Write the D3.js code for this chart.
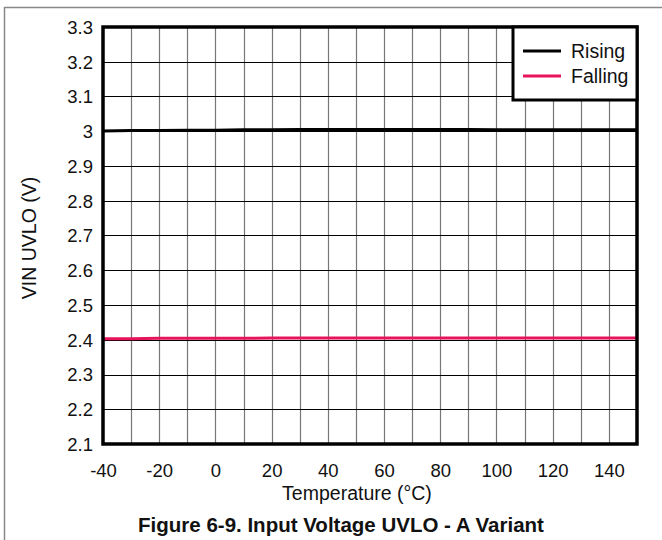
<!DOCTYPE html>
<html><head><meta charset="utf-8">
<script src="https://cdn.jsdelivr.net/npm/d3@7"></script>
<style>body{margin:0;background:#fff}svg{display:block}text{font-family:"Liberation Sans",Arial,sans-serif;fill:#111}</style>
</head><body><svg id="c" width="662" height="540"></svg>
<script>
const xTicks = [-40,-20,0,20,40,60,80,100,120,140];
const xTickLabels = ["-40","-20","0","20","40","60","80","100","120","140"];
const yTicks = [2.1,2.2,2.3,2.4,2.5,2.6,2.7,2.8,2.9,3.0,3.1,3.2,3.3];
const yTickLabels = ["2.1","2.2","2.3","2.4","2.5","2.6","2.7","2.8","2.9","3","3.1","3.2","3.3"];
const temps = [-40,-30,-20,-10,0,10,20,30,40,50,60,70,80,90,100,110,120,130,140,150];
const rising = [3.001,3.002,3.002,3.003,3.003,3.004,3.004,3.005,3.005,3.005,3.005,3.005,3.005,3.005,3.004,3.004,3.004,3.004,3.004,3.004];
const falling = [2.403,2.403,2.404,2.404,2.404,2.404,2.405,2.405,2.405,2.405,2.405,2.405,2.405,2.405,2.405,2.405,2.405,2.405,2.405,2.405];
const seriesNames = ["Rising","Falling"];
const seriesColors = ["#000000","#e8145a"];

const svg = d3.select("#c");
const L=103,R=637,T=27,B=444;
const x = d3.scaleLinear().domain([-40,150]).range([L,R]);
const y = d3.scaleLinear().domain([2.1,3.3]).range([B,T]);

// outer frame
svg.append("line").attr("x1",4).attr("x2",662).attr("y1",7.5).attr("y2",7.5).attr("stroke","#888").attr("stroke-width",1.5);
svg.append("line").attr("x1",4.5).attr("x2",4.5).attr("y1",7).attr("y2",540).attr("stroke","#888").attr("stroke-width",1.5);

// grid
const gridX = d3.range(-30,150,10);
svg.append("g").selectAll("line").data(gridX).join("line")
  .attr("x1",d=>Math.round(x(d))+0.5).attr("x2",d=>Math.round(x(d))+0.5).attr("y1",T).attr("y2",B)
  .attr("stroke","#777").attr("stroke-width",1.2);
svg.append("g").selectAll("line").data(yTicks.slice(1,-1)).join("line")
  .attr("y1",d=>Math.round(y(d))+0.5).attr("y2",d=>Math.round(y(d))+0.5).attr("x1",L).attr("x2",R)
  .attr("stroke","#000").attr("stroke-width",1.2);

// axes labels
const xa = d3.axisBottom(x).tickValues(xTicks).tickFormat((d,i)=>xTickLabels[i]).tickSize(0).tickPadding(0);
const gx = svg.append("g").attr("transform",`translate(0,${B})`).call(xa);
gx.select(".domain").remove();
gx.selectAll("text").attr("dy",null).attr("y",33).style("font-size","18.5px").attr("fill","#111");
const ya = d3.axisLeft(y).tickValues(yTicks).tickFormat((d,i)=>yTickLabels[i]).tickSize(0).tickPadding(0);
const gy = svg.append("g").attr("transform",`translate(93,0)`).call(ya);
gy.select(".domain").remove();
gy.selectAll("text").attr("dy","0.35em").style("font-size","18.5px").attr("fill","#111");

// lines
const line = d3.line().x((d,i)=>x(temps[i])).y(d=>y(d));
[rising,falling].forEach((s,k)=>{
  svg.append("path").datum(s).attr("d",line).attr("fill","none").attr("stroke",seriesColors[k]).attr("stroke-width",3);
});

// frame
svg.append("rect").attr("x",L).attr("y",T).attr("width",R-L).attr("height",B-T).attr("fill","none").attr("stroke","#000").attr("stroke-width",3.5);

// legend
const lg = svg.append("g");
lg.append("rect").attr("x",513).attr("y",T).attr("width",R-513).attr("height",73).attr("fill","#fff").attr("stroke","#000").attr("stroke-width",3);
seriesNames.forEach((n,i)=>{
  const yy = 51+i*25;
  lg.append("line").attr("x1",523).attr("x2",561).attr("y1",yy).attr("y2",yy).attr("stroke",seriesColors[i]).attr("stroke-width",3);
  lg.append("text").attr("x",571).attr("y",yy).attr("dy","0.35em").style("font-size","19.5px").text(n);
});

// titles
svg.append("text").attr("x",357).attr("y",500).attr("text-anchor","middle").style("font-size","19.5px").text("Temperature (°C)");
svg.append("text").attr("transform","translate(36,238) rotate(-90)").attr("text-anchor","middle").style("font-size","19.5px").text("VIN UVLO (V)");
svg.append("text").attr("x",341).attr("y",532).attr("text-anchor","middle").style("font-size","20.5px").style("font-weight","bold").text("Figure 6-9. Input Voltage UVLO - A Variant");
</script></body></html>
